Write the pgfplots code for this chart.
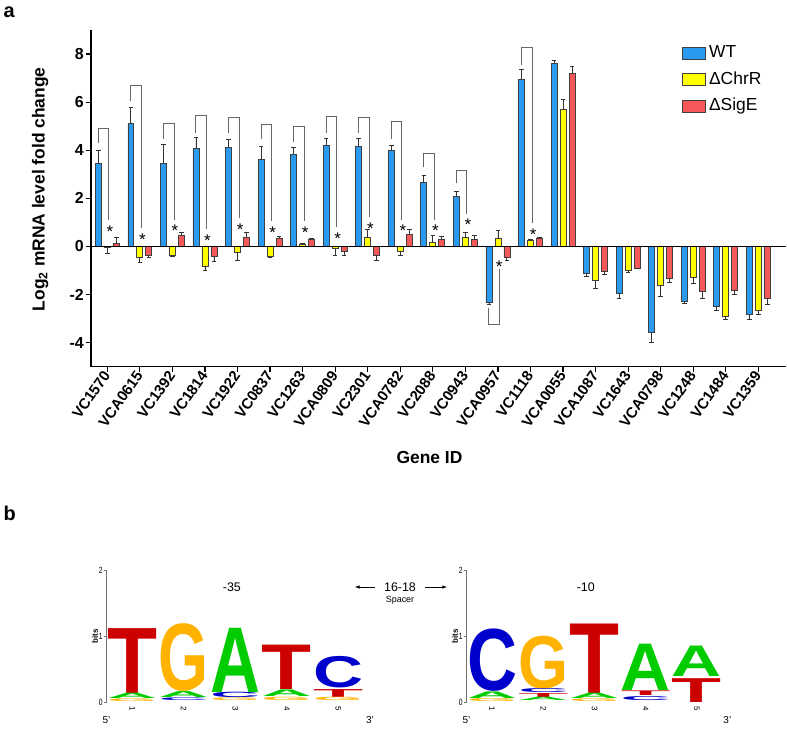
\documentclass[border=0pt]{standalone}
\usepackage{pgfplots}
\pgfplotsset{compat=1.18}
\usepackage{pgfplotstable}
\usepackage{graphicx}
\usepackage{fontspec}
\setmainfont{Liberation Sans}
\definecolor{wtblue}{RGB}{40,155,240}
\definecolor{chy}{RGB}{255,255,0}
\definecolor{sgred}{RGB}{245,88,88}
\definecolor{lT}{RGB}{204,0,0}
\definecolor{lG}{RGB}{255,179,0}
\definecolor{lA}{RGB}{0,204,0}
\definecolor{lC}{RGB}{0,0,204}

\pgfplotstableread{
x wt wte ch che sg sge
0 3.44 0.55 -0.02 -0.28 0.14 0.25
1 5.11 0.69 -0.45 -0.20 -0.39 -0.07
2 3.46 0.78 -0.37 -0.03 0.46 0.14
3 4.08 0.45 -0.82 -0.19 -0.42 -0.22
4 4.12 0.33 -0.25 -0.33 0.39 0.21
5 3.62 0.56 -0.42 -0.03 0.32 0.11
6 3.83 0.27 0.08 0.05 0.29 0.04
7 4.20 0.31 -0.10 -0.27 -0.21 -0.18
8 4.16 0.33 0.36 0.33 -0.37 -0.23
9 4.00 0.20 -0.20 -0.17 0.51 0.18
10 2.65 0.32 0.18 0.28 0.28 0.14
11 2.08 0.20 0.37 0.23 0.28 0.18
12 -2.31 -0.12 0.32 0.33 -0.44 -0.16
13 6.95 0.40 0.24 0.06 0.32 0.06
14 7.62 0.11 5.71 0.42 7.18 0.30
15 -1.11 -0.14 -1.43 -0.30 -1.04 -0.11
16 -1.97 -0.18 -1.00 -0.07 -0.90 -0.03
17 -3.58 -0.40 -1.62 -0.46 -1.32 -0.16
18 -2.27 -0.09 -1.29 -0.23 -1.87 -0.28
19 -2.49 -0.17 -2.91 -0.11 -1.83 -0.15
20 -2.81 -0.24 -2.67 -0.17 -2.15 -0.27
}\fcdata

\newcommand\LL[5]{\addplot[draw=none, mark=none, forget plot,
  nodes near coords={\resizebox{50bp}{66.15bp}{\bfseries #4}},
  every node near coord/.style={anchor=south, inner sep=0pt, outer sep=0pt, yscale=#3, text=#5}]
  coordinates {(#1,#2)};}

\pgfplotsset{
  fcbar/.style={ybar, bar width=0.184, bar shift=0, draw=black!75, line width=0.7bp,
    error bars/y dir=plus, error bars/y explicit,
    error bars/error bar style={line width=0.8bp, black!80},
    error bars/error mark options={rotate=90, mark size=2.3bp, line width=0.8bp, black!80}},
  brk/.style={black!60, line width=1bp, forget plot, mark=none},
  logo/.style={scale only axis, height=132.3bp, xmin=0.5, xmax=5.5, ymin=0, ymax=2,
    axis y line*=left, axis x line*=bottom, x axis line style={draw=none},
    y axis line style={black!55, line width=0.7bp},
    ytick={0,1,2}, yticklabels={0,1,2}, xtick={1,2,3,4,5}, xticklabels={1,2,3,4,5},
    xtick style={draw=none}, ytick style={black!55, line width=0.6bp},
    tick align=outside, major tick length=3bp,
    yticklabel style={font=\fontsize{9}{9}\selectfont, xscale=0.75, inner sep=1bp},
    xticklabel style={font=\fontsize{8}{8}\selectfont, rotate=-90, anchor=west, inner sep=1bp},
    ylabel={\bfseries bits}, ylabel style={font=\fontsize{8}{8}\selectfont, at={(axis description cs:-0.045,0.5)}, anchor=center},
    clip=false}
}

\begin{document}
\begin{tikzpicture}
\useasboundingbox (0,0) rectangle (787bp,729bp);
\begin{axis}[
  scale only axis, width=695bp, height=336.7bp,
  at={(91bp,362.3bp)}, anchor=south west,
  xmin=-0.5, xmax=20.85, ymin=-5, ymax=9,
  axis x line*=bottom, axis y line*=left,
  axis line style={line width=1.4bp},
  tick align=outside, major tick length=5bp,
  tick style={line width=1.2bp, black},
  xtick={0,...,20},
  xticklabels={VC1570,VCA0615,VC1392,VC1814,VC1922,VC0837,VC1263,VCA0809,VC2301,VCA0782,VC2088,VC0943,VCA0957,VC1118,VCA0055,VCA1087,VC1643,VCA0798,VC1248,VC1484,VC1359},
  ytick={-4,-2,0,2,4,6,8}, yticklabels={-4,-2,0,2,4,6,8},
  xticklabel style={rotate=55, anchor=east, font=\bfseries\fontsize{15}{16}\selectfont, inner sep=1bp},
  yticklabel style={font=\bfseries\fontsize{16}{18}\selectfont, inner sep=2bp},
  ylabel={Log\textsubscript{2} mRNA level fold change},
  ylabel style={font=\bfseries\fontsize{17.5}{20}\selectfont, at={(axis description cs:-0.073,0.527)}, anchor=center},
  xlabel={Gene ID},
  xlabel style={font=\bfseries\fontsize{17.5}{20}\selectfont, at={(axis description cs:0.487,-0.271)}, anchor=center},
  legend image code/.code={\draw[#1] (0bp,-6.2bp) rectangle (23bp,6.2bp);},
  legend style={at={(0.8506,0.963)}, anchor=north west, draw=none, fill=none, inner sep=0pt,
    font=\fontsize{17.5}{20}\selectfont, row sep=5.5bp, column sep=1bp,
    nodes={text height=13bp, text depth=4bp, inner sep=2bp}},
  legend cell align=left,
  clip=false,
]
\addplot[fcbar, fill=wtblue] table[x expr=\thisrow{x}-0.276, y=wt, y error=wte]{\fcdata};
\addlegendentry{WT}
\addplot[fcbar, fill=chy] table[x=x, y=ch, y error=che]{\fcdata};
\addlegendentry{ΔChrR}
\addplot[fcbar, fill=sgred] table[x expr=\thisrow{x}+0.276, y=sg, y error=sge]{\fcdata};
\addlegendentry{ΔSigE}
\addplot[black, line width=1.6bp, forget plot] coordinates {(-0.5,0) (20.85,0)};
% significance brackets
\addplot[brk] coordinates {(-0.276,4.31) (-0.276,4.91) (0.05,4.91) (0.05,1.08)};
\addplot[brk] coordinates {(0.724,6.03) (0.724,6.70) (1.05,6.70) (1.05,0.76)};
\addplot[brk] coordinates {(1.724,4.45) (1.724,5.10) (2.05,5.10) (2.05,1.11)};
\addplot[brk] coordinates {(2.724,4.72) (2.724,5.43) (3.05,5.43) (3.05,0.71)};
\addplot[brk] coordinates {(3.724,4.70) (3.724,5.35) (4.05,5.35) (4.05,1.18)};
\addplot[brk] coordinates {(4.724,4.45) (4.724,5.09) (5.05,5.09) (5.05,1.04)};
\addplot[brk] coordinates {(5.724,4.35) (5.724,4.97) (6.05,4.97) (6.05,1.04)};
\addplot[brk] coordinates {(6.724,4.70) (6.724,5.39) (7.05,5.39) (7.05,0.81)};
\addplot[brk] coordinates {(7.724,4.72) (7.724,5.38) (8.05,5.38) (8.05,1.22)};
\addplot[brk] coordinates {(8.724,4.45) (8.724,5.20) (9.05,5.20) (9.05,1.11)};
\addplot[brk] coordinates {(9.724,3.30) (9.724,3.85) (10.05,3.85) (10.05,1.11)};
\addplot[brk] coordinates {(10.724,2.62) (10.724,3.16) (11.05,3.16) (11.05,1.36)};
\addplot[brk] coordinates {(11.724,-2.55) (11.724,-3.26) (12.05,-3.26) (12.05,-0.94)};
\addplot[brk] coordinates {(12.724,7.55) (12.724,8.27) (13.05,8.27) (13.05,0.97)};
\addplot[only marks, mark=text, text mark={\fontsize{17}{17}\selectfont *}, forget plot]
 coordinates {
 (0.08,0.61) (1.08,0.29) (2.08,0.64) (3.08,0.24) (4.08,0.71) (5.08,0.57) (6.08,0.57)
 (7.08,0.34) (8.08,0.75) (9.08,0.64) (10.08,0.64) (11.08,0.89) (12.04,-0.84) (13.08,0.50)};
\end{axis}

% ---- panel b, -35 logo
\begin{axis}[logo, width=257.5bp, at={(106.5bp,26.7bp)}, anchor=south west]
\LL{1}{0.14}{0.98}{T}{lT}
\LL{1}{0.06}{0.08}{A}{lA}
\LL{1}{0.01}{0.04}{G}{lG}
\LL{2}{0.16}{1.01}{G}{lG}
\LL{2}{0.07}{0.09}{A}{lA}
\LL{2}{0.02}{0.04}{C}{lC}
\LL{3}{0.15}{0.97}{A}{lA}
\LL{3}{0.07}{0.08}{C}{lC}
\LL{3}{0.02}{0.04}{G}{lG}
\LL{4}{0.20}{0.67}{T}{lT}
\LL{4}{0.09}{0.10}{A}{lA}
\LL{4}{0.03}{0.05}{G}{lG}
\LL{5}{0.21}{0.47}{C}{lC}
\LL{5}{0.08}{0.12}{T}{lT}
\LL{5}{0.02}{0.05}{G}{lG}
\node[font=\fontsize{12.5}{13}\selectfont] at (rel axis cs:0.487,0.871) {-35};
\node[font=\fontsize{10}{10}\selectfont] at (rel axis cs:0,-0.134) {5'};
\node[font=\fontsize{10}{10}\selectfont] at (rel axis cs:1.023,-0.134) {3'};
\end{axis}

% ---- panel b, -10 logo
\begin{axis}[logo, width=256bp, at={(466.5bp,26.7bp)}, anchor=south west]
\LL{1}{0.16}{0.93}{C}{lC}
\LL{1}{0.06}{0.10}{A}{lA}
\LL{1}{0.01}{0.045}{G}{lG}
\LL{2}{0.20}{0.79}{G}{lG}
\LL{2}{0.14}{0.06}{C}{lC}
\LL{2}{0.08}{0.06}{T}{lT}
\LL{2}{0.02}{0.05}{A}{lA}
\LL{3}{0.14}{1.05}{T}{lT}
\LL{3}{0.06}{0.08}{A}{lA}
\LL{3}{0.01}{0.04}{G}{lG}
\LL{4}{0.18}{0.70}{A}{lA}
\LL{4}{0.10}{0.07}{T}{lT}
\LL{4}{0.03}{0.06}{C}{lC}
\LL{5}{0.39}{0.46}{A}{lA}
\LL{5}{0.0}{0.36}{T}{lT}
\node[font=\fontsize{12.5}{13}\selectfont] at (rel axis cs:0.466,0.871) {-10};
\node[font=\fontsize{10}{10}\selectfont] at (rel axis cs:0,-0.134) {5'};
\node[font=\fontsize{10}{10}\selectfont] at (rel axis cs:1.019,-0.134) {3'};
\end{axis}

\draw[-latex, line width=0.6bp] (375bp,142bp) -- (355bp,142bp);
\draw[-latex, line width=0.6bp] (425bp,142bp) -- (447bp,142bp);
\node[font=\fontsize{12.5}{13}\selectfont] at (400bp,142bp) {16-18};
\node[font=\fontsize{9}{9}\selectfont] at (400bp,129bp) {Spacer};
\node[font=\bfseries\fontsize{20}{20}\selectfont, anchor=base west] at (0bp,711bp) {a};
\node[font=\bfseries\fontsize{20}{20}\selectfont, anchor=base west] at (0bp,208bp) {b};
\end{tikzpicture}
\end{document}
